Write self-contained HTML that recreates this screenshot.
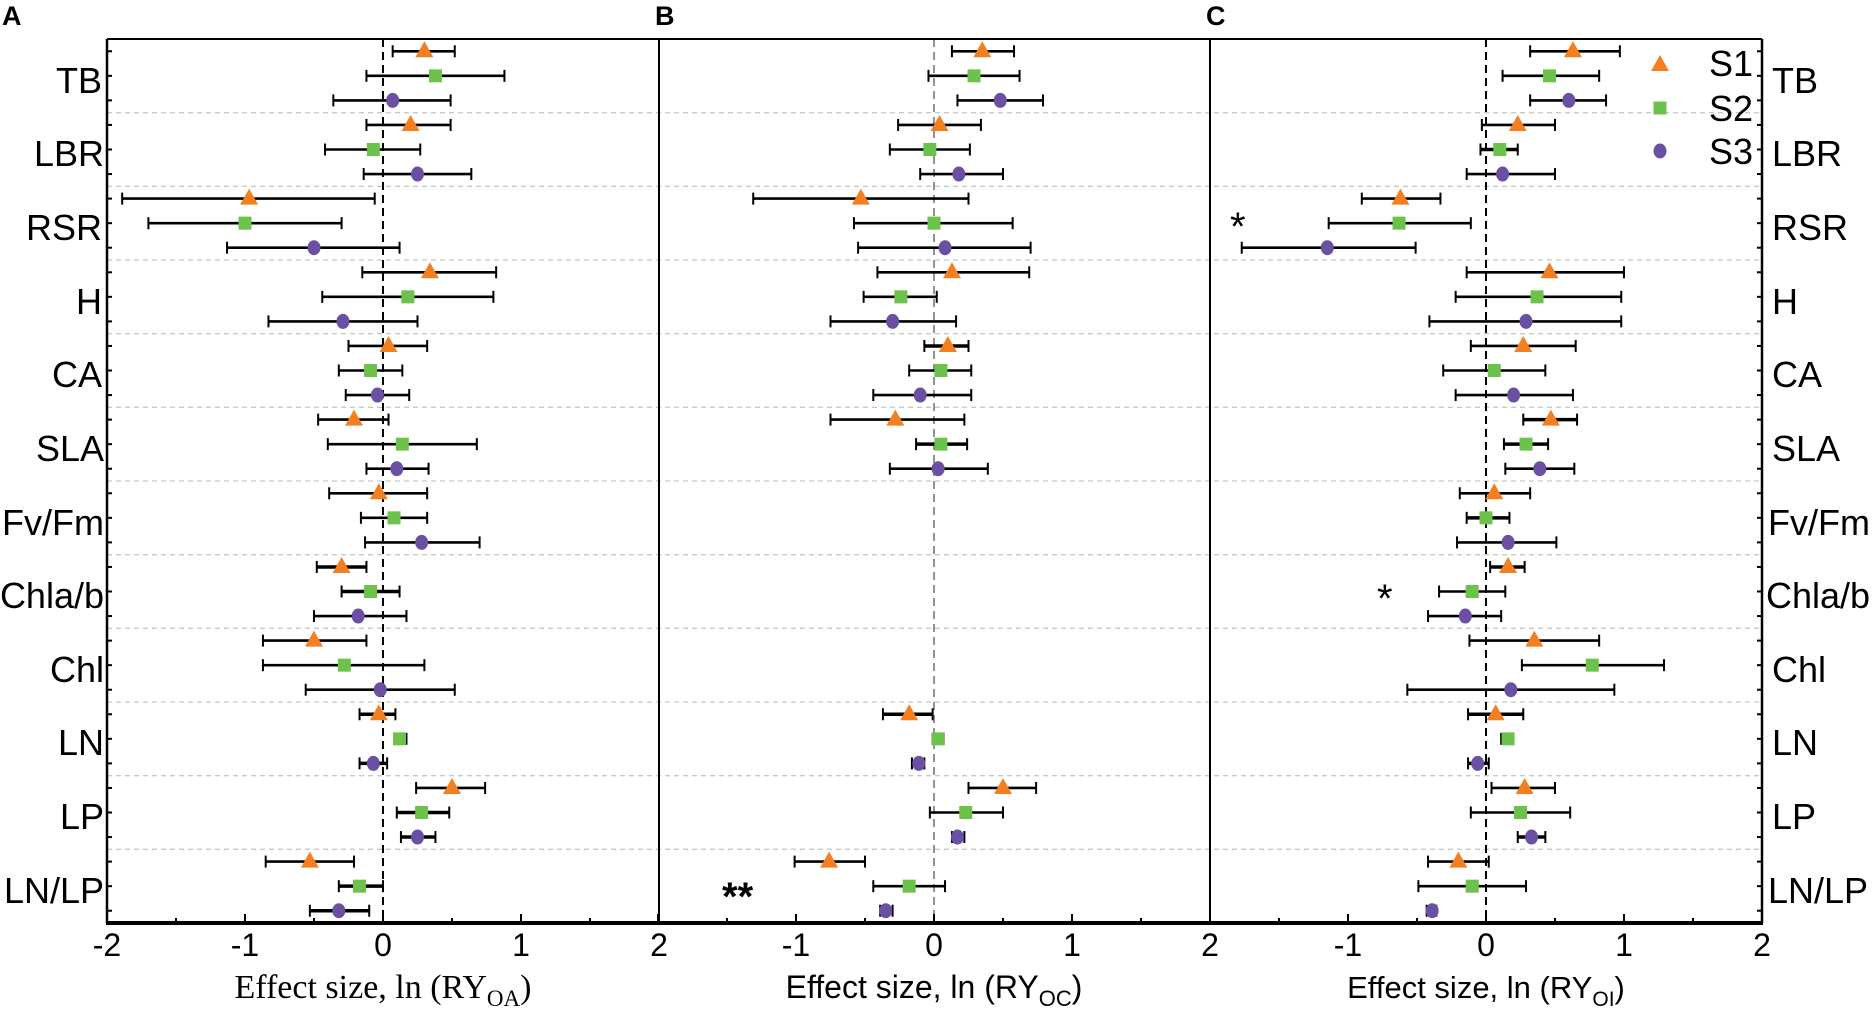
<!DOCTYPE html>
<html><head><meta charset="utf-8"><style>
html,body{margin:0;padding:0;background:#fff;}
svg{display:block;}
.lab{font-family:"Liberation Sans",sans-serif;font-size:36px;fill:#000;}
.tk{font-family:"Liberation Sans",sans-serif;font-size:32px;fill:#000;}
.ser{font-family:"Liberation Serif",serif;font-size:34px;fill:#000;}
.pl{font-family:"Liberation Sans",sans-serif;font-size:27px;font-weight:bold;fill:#000;}
</style></head><body>
<svg id="s" width="1875" height="1011" xmlns="http://www.w3.org/2000/svg">
<g id="grid"></g>
<g id="data"></g>
<text class="pl" x="2" y="25">A</text>
<text class="pl" x="655" y="25">B</text>
<text class="pl" x="1206" y="25">C</text>
<g class="lab" text-anchor="end">
<text x="102" y="93">TB</text>
<text x="104" y="166">LBR</text>
<text x="102" y="240">RSR</text>
<text x="102" y="314">H</text>
<text x="102" y="387">CA</text>
<text x="104" y="461">SLA</text>
<text x="104" y="535">Fv/Fm</text>
<text x="104" y="608">Chla/b</text>
<text x="104" y="682">Chl</text>
<text x="104" y="755">LN</text>
<text x="104" y="829">LP</text>
<text x="104" y="903">LN/LP</text>
</g>
<g class="lab" text-anchor="start">
<text x="1772" y="93">TB</text>
<text x="1772" y="166">LBR</text>
<text x="1772" y="240">RSR</text>
<text x="1772" y="314">H</text>
<text x="1772" y="387">CA</text>
<text x="1772" y="461">SLA</text>
<text x="1768" y="535">Fv/Fm</text>
<text x="1766" y="608">Chla/b</text>
<text x="1772" y="682">Chl</text>
<text x="1772" y="755">LN</text>
<text x="1772" y="829">LP</text>
<text x="1768" y="903">LN/LP</text>
</g>
<g class="tk" text-anchor="middle">
<text x="107" y="956">-2</text><text x="245" y="956">-1</text><text x="383" y="956">0</text><text x="521" y="956">1</text><text x="659" y="956">2</text>
<text x="796" y="956">-1</text><text x="934" y="956">0</text><text x="1072" y="956">1</text><text x="1210" y="956">2</text>
<text x="1348" y="956">-1</text><text x="1486" y="956">0</text><text x="1624" y="956">1</text><text x="1762" y="956">2</text>
</g>
<text class="ser" x="383" y="998" text-anchor="middle">Effect size, ln (RY<tspan font-size="23" dy="8">OA</tspan><tspan dy="-8">)</tspan></text>
<text class="tk" x="934" y="998" text-anchor="middle">Effect size, ln (RY<tspan font-size="22" dy="8">OC</tspan><tspan dy="-8">)</tspan></text>
<text class="tk" x="1486" y="998" text-anchor="middle" style="font-size:31px">Effect size, ln (RY<tspan font-size="21" dy="8">OI</tspan><tspan dy="-8">)</tspan></text>
<text class="lab" x="1709" y="76">S1</text>
<text class="lab" x="1709" y="121">S2</text>
<text class="lab" x="1709" y="164">S3</text>
<text class="lab" x="1230" y="240" style="font-size:40px">*</text>
<text class="lab" x="1377" y="612" style="font-size:40px">*</text>
<text class="lab" x="722" y="910" style="font-size:40px;font-weight:bold">**</text>
</svg>
<script>
(function(){
const NS="http://www.w3.org/2000/svg";
function el(p,t,a){const e=document.createElementNS(NS,t);for(const k in a)e.setAttribute(k,a[k]);p.appendChild(e);return e;}
const g=document.getElementById('grid'),d=document.getElementById('data');
const T=39,B=923,L=107,R=1762,gh=(B-T)/12,rh=gh/3;
const Z=[383,934,1486],U=138;
for(let i=1;i<12;i++){const y=T+i*gh;el(g,'line',{x1:L,x2:R,y1:y,y2:y,stroke:'#c8c8c8','stroke-width':1.3,'stroke-dasharray':'5,4'});}
el(g,'line',{x1:383,x2:383,y1:T,y2:B,stroke:'#000','stroke-width':2,'stroke-dasharray':'8,5'});
el(g,'line',{x1:934,x2:934,y1:T,y2:B,stroke:'#777','stroke-width':1.6,'stroke-dasharray':'8,5'});
el(g,'line',{x1:1486,x2:1486,y1:T,y2:B,stroke:'#000','stroke-width':2,'stroke-dasharray':'8,5'});
el(g,'line',{x1:L,x2:R,y1:T,y2:T,stroke:'#000','stroke-width':2});
el(g,'line',{x1:L,x2:L,y1:T,y2:B,stroke:'#000','stroke-width':2.5});
el(g,'line',{x1:R,x2:R,y1:T,y2:B,stroke:'#000','stroke-width':2.5});
el(g,'line',{x1:659,x2:659,y1:T,y2:B,stroke:'#000','stroke-width':2});
el(g,'line',{x1:1210,x2:1210,y1:T,y2:B,stroke:'#000','stroke-width':2});
el(g,'line',{x1:L-1,x2:R+1,y1:B,y2:B,stroke:'#000','stroke-width':4});
for(let i=0;i<36;i++){const y=T+(i+.5)*rh;el(g,'line',{x1:L,x2:L+5,y1:y,y2:y,stroke:'#000','stroke-width':2});el(g,'line',{x1:R-5,x2:R,y1:y,y2:y,stroke:'#000','stroke-width':2});}
for(let p=0;p<3;p++)for(let k=-4;k<=4;k++){const x=Z[p]+k*U/2;el(g,'line',{x1:x,x2:x,y1:B,y2:B-(k%2==0?9:5),stroke:'#000','stroke-width':2});}
const C=['#f47f20','#6cc24a','#6a4fa3'];
function mk(x,y,s){
 if(s==0)el(d,'polygon',{points:`${x},${y-10} ${x-9},${y+6} ${x+9},${y+6}`,fill:C[0]});
 else if(s==1)el(d,'rect',{x:x-6.5,y:y-6.5,width:13,height:13,fill:C[1]});
 else el(d,'ellipse',{cx:x,cy:y,rx:6.5,ry:7.5,fill:C[2]});
}
const D=[
[[.30,.07,.52],[.38,-.12,.88],[.07,-.36,.49],[.20,-.12,.49],[-.07,-.42,.27],[.25,-.14,.64],[-.97,-1.89,-.06],[-1.0,-1.70,-.30],[-.50,-1.13,.12],[.34,-.15,.82],[.18,-.44,.80],[-.29,-.83,.25],[.04,-.25,.32],[-.09,-.32,.14],[-.04,-.27,.19],[-.21,-.47,.04],[.14,-.40,.68],[.10,-.12,.33],[-.03,-.39,.32],[.08,-.16,.32],[.28,-.13,.70],[-.30,-.48,-.12],[-.09,-.30,.12],[-.18,-.50,.17],[-.50,-.87,-.12],[-.28,-.87,.30],[-.02,-.56,.52],[-.03,-.17,.09],[.12,.09,.17],[-.07,-.17,.03],[.50,.24,.74],[.28,.10,.48],[.25,.13,.38],[-.53,-.85,-.21],[-.17,-.32,0],[-.32,-.53,-.10]],
[[.35,.13,.58],[.29,-.04,.62],[.48,.17,.79],[.04,-.26,.34],[-.03,-.32,.26],[.18,-.10,.50],[-.53,-1.31,.25],[0,-.58,.57],[.08,-.55,.70],[.13,-.41,.69],[-.24,-.51,.02],[-.30,-.75,.16],[.10,-.07,.25],[.05,-.18,.27],[-.10,-.44,.27],[-.28,-.75,.22],[.05,-.13,.24],[.03,-.32,.39],null,null,null,null,null,null,null,null,null,[-.18,-.37,-.01],[.03,-.01,.07],[-.11,-.16,-.07],[.50,.25,.74],[.23,-.03,.50],[.17,.13,.22],[-.76,-1.01,-.50],[-.18,-.44,.08],[-.35,-.39,-.30]],
[[.63,.32,.97],[.46,.12,.82],[.60,.32,.87],[.23,-.03,.50],[.10,-.04,.23],[.12,-.14,.50],[-.62,-.90,-.33],[-.63,-1.14,-.11],[-1.15,-1.77,-.51],[.46,-.14,1.0],[.37,-.22,.98],[.29,-.41,.98],[.27,-.11,.65],[.06,-.31,.43],[.20,-.22,.63],[.47,.27,.66],[.29,.13,.45],[.39,.14,.64],[.06,-.19,.32],[0,-.14,.17],[.16,-.21,.51],[.16,.03,.28],[-.10,-.34,.14],[-.15,-.42,.11],[.35,-.12,.82],[.77,.26,1.29],[.18,-.57,.93],[.07,-.13,.27],[.16,.11,.19],[-.06,-.13,.02],[.28,.04,.50],[.25,-.11,.61],[.33,.23,.43],[-.20,-.42,.02],[-.10,-.49,.29],[-.39,-.43,-.36]]];
for(let p=0;p<3;p++)for(let i=0;i<36;i++){const v=D[p][i];if(!v)continue;const y=T+(i+.5)*rh;
 const x0=Z[p]+v[1]*U,x1=Z[p]+v[2]*U,xm=Z[p]+v[0]*U;
 const w=(x1-x0)<60?3.5:2.6;
 el(d,'line',{x1:x0,x2:x1,y1:y,y2:y,stroke:'#000','stroke-width':w});
 el(d,'line',{x1:x0,x2:x0,y1:y-6,y2:y+6,stroke:'#000','stroke-width':2});
 el(d,'line',{x1:x1,x2:x1,y1:y-6,y2:y+6,stroke:'#000','stroke-width':2});
 mk(xm,y,i%3);}
mk(1660,65,0);mk(1660,108,1);mk(1660,151,2);
})();
</script>
</body></html>
